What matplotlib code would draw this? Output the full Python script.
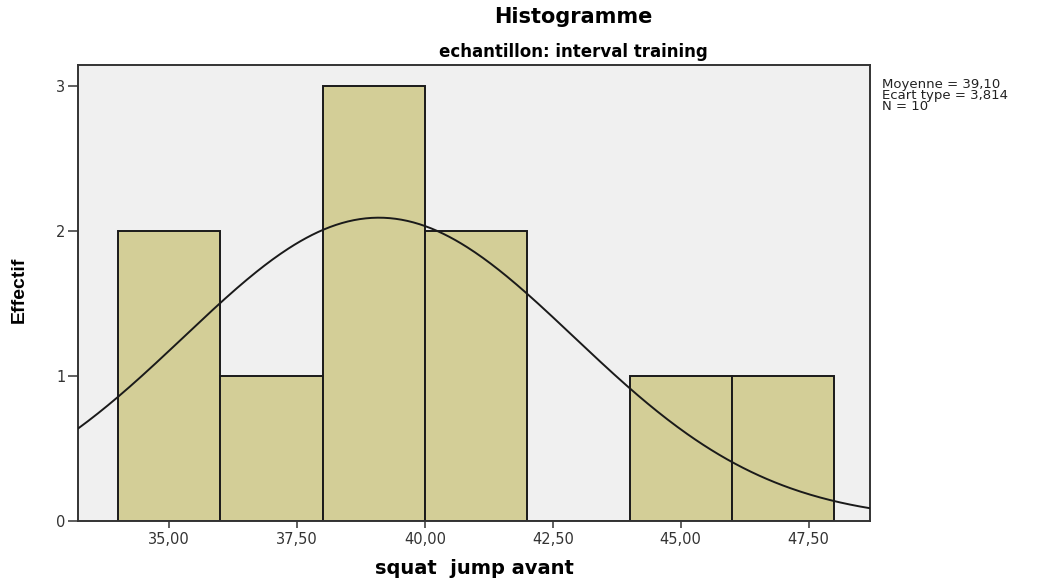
import numpy as np
import matplotlib
matplotlib.use("Agg")
import matplotlib.pyplot as plt

plt.rcParams['font.family'] = ['DejaVu Sans']

# Data
bin_edges = [34, 36, 38, 40, 42, 44, 46, 48]
counts = [2, 1, 3, 2, 0, 1, 1]
mean = 39.10
std = 3.814
n = 10
xticks = [35.0, 37.5, 40.0, 42.5, 45.0, 47.5]
xtick_labels = ["35,00", "37,50", "40,00", "42,50", "45,00", "47,50"]
yticks = [0, 1, 2, 3]

W, H = 1051, 581
fig = plt.figure(figsize=(W / 100, H / 100), dpi=100)
ax = fig.add_axes([78 / W, 1 - 521 / H, (870 - 78) / W, (521 - 65) / H])
ax.set_facecolor('#F0F0F0')

lefts = bin_edges[:-1]
widths = np.diff(bin_edges)
ax.bar(lefts, counts, width=widths, align='edge', color='#D3CE97',
       edgecolor='#1a1a1a', linewidth=1.4, zorder=2)

xlim = (33.22, 48.7)
xs = np.linspace(xlim[0], xlim[1], 400)
bw = widths[0]
ys = n * bw / (std * np.sqrt(2 * np.pi)) * np.exp(-0.5 * ((xs - mean) / std) ** 2)
ax.plot(xs, ys, color='#1a1a1a', linewidth=1.4, zorder=3)

ax.set_xlim(*xlim)
ax.set_ylim(0, 3.145)
ax.set_xticks(xticks)
ax.set_xticklabels(xtick_labels, fontsize=10.5, color='#333333')
ax.set_yticks(yticks)
ax.set_yticklabels([str(v) for v in yticks], fontsize=10.5, color='#333333')
ax.tick_params(axis='x', direction='out', length=5, width=1.2, color='#444444', pad=3)
ax.tick_params(axis='y', direction='out', length=7, width=1.2, color='#444444', pad=2)

for s in ax.spines.values():
    s.set_color('#333333')
    s.set_linewidth(1.4)

ax.set_xlabel("squat  jump avant", fontsize=14, fontweight='bold')
ax.xaxis.set_label_coords(0.5, -(568 - 521) / (521 - 65))
ax.xaxis.label.set_va('center')
ax.set_ylabel("Effectif", fontsize=14, fontweight='bold',
              family=['Liberation Sans', 'DejaVu Sans'])
ax.yaxis.set_label_coords(-(78 - 19) / (870 - 78), (521 - 290) / (521 - 65))
ax.yaxis.label.set_va('center')

fig.text(573 / W, 1 - 23 / H, "Histogramme", ha='center', va='baseline',
         fontsize=15, fontweight='bold')
fig.text(573 / W, 1 - 57 / H, "echantillon: interval training", ha='center',
         va='baseline', fontsize=12, fontweight='bold')

fig.text(882 / W, 1 - 78 / H,
         "Moyenne = 39,10\nEcart type = 3,814\nN = 10",
         ha='left', va='top', fontsize=9.5, linespacing=0.8, color='#222222')

fig.savefig("out.png", dpi=100)
